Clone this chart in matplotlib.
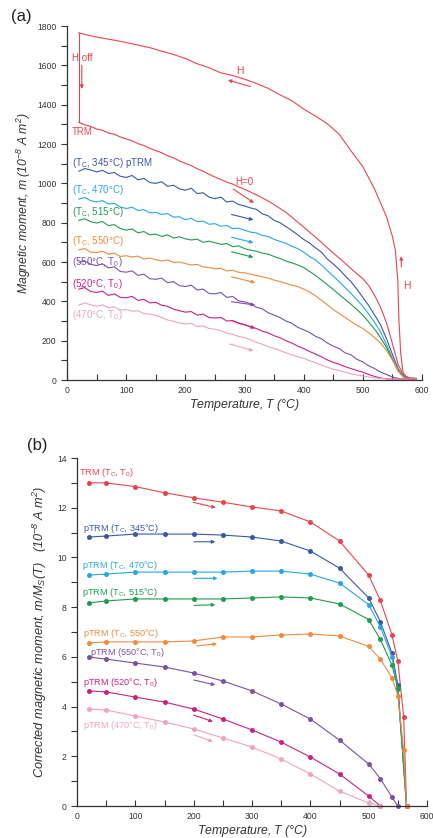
import matplotlib
matplotlib.use("Agg")
import matplotlib.pyplot as plt

plt.rcParams["font.family"] = ["Liberation Sans", "DejaVu Sans"]
plt.rcParams["mathtext.fontset"] = "custom"
plt.rcParams["mathtext.rm"] = "Liberation Sans"
plt.rcParams["mathtext.it"] = "Liberation Sans:italic"
plt.rcParams["mathtext.default"] = "regular"

RED = "#e4464c"
BLUE = "#3b58a5"
CYAN = "#27a7df"
GREEN = "#1f9c4c"
ORANGE = "#ef8a3f"
PURPLE = "#7b52a3"
MAGENTA = "#c42580"
PINK = "#eea3c2"

# ---- (a) continuous thermal scans, m in 1e-8 A m^2 ----
T_scan = [20, 30, 40, 50, 60, 70, 80, 90, 100, 110,
          120, 130, 140, 150, 160, 170, 180, 190, 200, 210,
          220, 230, 240, 250, 260, 270, 280, 290, 300, 310,
          320, 330, 340, 350, 360, 370, 380, 390, 400, 410,
          420, 430, 440, 450, 460, 470, 480, 490, 500, 510,
          520, 530, 540, 550, 560, 570, 580, 590]

# cooling in field H (from above Tc down to room temperature)
T_field = [20, 40, 60, 80, 100, 120, 140, 160, 180, 200, 220, 240, 260, 280,
           300, 320, 340, 360, 380, 400, 420, 440, 460, 480, 500, 520, 540,
           550, 555, 559, 561, 564, 568, 575, 590]
m_field = [1765, 1750, 1738, 1728, 1716, 1703, 1690, 1672, 1655, 1635, 1608,
           1588, 1562, 1548, 1530, 1508, 1483, 1450, 1420, 1378, 1342, 1303,
           1250, 1165, 1085, 970, 830, 730, 660, 510, 305, 137, 36, 12, 8]

m_trm = [1310, 1298, 1290, 1276, 1270, 1256, 1250, 1236, 1226, 1216,
         1202, 1192, 1178, 1166, 1156, 1140, 1130, 1114, 1102, 1090,
         1074, 1062, 1046, 1032, 1020, 1006, 996, 982, 970, 956,
         942, 926, 910, 892, 872, 852, 828, 802, 778, 752,
         726, 700, 672, 646, 620, 594, 566, 540, 515, 480,
         430, 370, 290, 185, 75, 22, 10, 8]
m_345 = [1062, 1075, 1068, 1058, 1066, 1050, 1055, 1036, 1030, 1040,
         1018, 1025, 1004, 1000, 1008, 985, 990, 972, 965, 975,
         948, 952, 930, 922, 930, 905, 910, 892, 885, 875,
         868, 845, 835, 812, 800, 780, 760, 738, 715, 696,
         672, 650, 615, 590, 562, 530, 500, 462, 420, 378,
         330, 280, 210, 130, 55, 15, 5, 6]
m_470 = [920, 928, 912, 905, 912, 895, 898, 880, 872, 878,
         862, 866, 850, 852, 842, 846, 828, 830, 815, 822,
         805, 808, 792, 795, 782, 786, 770, 772, 762, 752,
         748, 735, 730, 715, 705, 695, 680, 668, 650, 628,
         610, 585, 556, 528, 500, 470, 440, 408, 375, 335,
         292, 245, 180, 110, 45, 12, 5, 5]
m_515 = [812, 820, 805, 798, 806, 785, 790, 770, 762, 768,
         748, 755, 738, 742, 730, 738, 722, 728, 718, 712,
         716, 700, 706, 698, 690, 694, 678, 682, 668, 660,
         655, 645, 640, 628, 618, 605, 596, 585, 572, 552,
         532, 508, 485, 460, 435, 410, 385, 358, 330, 295,
         258, 215, 165, 105, 45, 12, 5, 5]
m_550 = [662, 668, 650, 648, 655, 640, 645, 628, 632, 625,
         630, 615, 620, 612, 605, 610, 598, 600, 592, 585,
         588, 575, 572, 565, 568, 555, 558, 548, 545, 538,
         532, 525, 518, 508, 500, 492, 482, 475, 462, 448,
         428, 405, 382, 358, 338, 318, 298, 278, 262, 240,
         215, 188, 150, 102, 45, 12, 5, 5]
m_550_t0 = [598, 605, 588, 582, 590, 570, 575, 552, 548, 555,
            532, 538, 515, 512, 518, 495, 500, 480, 475, 482,
            458, 462, 440, 438, 445, 420, 425, 402, 398, 388,
            370, 362, 342, 330, 318, 300, 288, 268, 255, 242,
            222, 210, 188, 172, 160, 138, 128, 105, 92, 72,
            58, 40, 28, 15, 8, 5, 5, 5]
m_520_t0 = [462, 470, 450, 445, 452, 430, 438, 420, 418, 425,
            405, 410, 392, 395, 380, 375, 360, 352, 345, 348,
            330, 335, 318, 315, 318, 300, 302, 288, 282, 270,
            262, 248, 240, 225, 215, 200, 188, 172, 160, 145,
            132, 118, 102, 90, 80, 68, 58, 48, 40, 28,
            18, 10, 6, 5, 5, 5, 5, 5]
m_470_t0 = [380, 392, 382, 375, 382, 368, 372, 355, 358, 350,
            352, 338, 335, 328, 318, 305, 298, 290, 285, 288,
            272, 275, 262, 258, 250, 238, 232, 222, 215, 205,
            192, 182, 170, 160, 150, 138, 128, 118, 110, 98,
            88, 76, 65, 55, 48, 40, 32, 26, 20, 15,
            10, 8, 6, 5, 5, 5, 5, 5]

scan_series = [
    (m_345, BLUE, r"(T$_C$, 345°C) pTRM", 1103),
    (m_470, CYAN, r"(T$_C$, 470°C)", 966),
    (m_515, GREEN, r"(T$_C$, 515°C)", 852),
    (m_550, ORANGE, r"(T$_C$, 550°C)", 708),
    (m_550_t0, PURPLE, r"(550°C, T$_0$)", 602),
    (m_520_t0, MAGENTA, r"(520°C, T$_0$)", 488),
    (m_470_t0, PINK, r"(470°C, T$_0$)", 330),
]
# heating arrows drawn beside each scan: (T start, m start, T end, m end)
scan_arrows = [
    (BLUE, 278, 842, 315, 814),
    (CYAN, 278, 726, 315, 698),
    (GREEN, 278, 652, 315, 624),
    (ORANGE, 278, 525, 318, 495),
    (PURPLE, 278, 398, 318, 381),
    (MAGENTA, 278, 302, 318, 263),
    (PINK, 275, 183, 315, 149),
]

# ---- (b) corrected moments at discrete steps, 1e-8 A m^2 ----
T_trm_b = [20, 50, 100, 150, 200, 250, 300, 350, 400, 450, 500, 520, 540, 550, 560, 565]
M_trm_b = [13.0, 13.0, 12.85, 12.6, 12.4, 12.22, 12.03, 11.87, 11.43, 10.66,
           9.29, 8.27, 6.88, 5.83, 3.59, 0.0]
T_tc_b = [20, 50, 100, 150, 200, 250, 300, 350, 400, 450, 500, 520, 540, 550, 565]
M_345_b = [10.82, 10.86, 10.94, 10.94, 10.94, 10.9, 10.82, 10.66, 10.26, 9.57,
           8.37, 7.42, 6.14, 4.87, 0.0]
M_470_b = [9.29, 9.33, 9.41, 9.41, 9.41, 9.41, 9.45, 9.45, 9.33, 8.97,
           8.1, 7.21, 6.0, 4.7, 0.0]
M_515_b = [8.17, 8.25, 8.33, 8.33, 8.33, 8.33, 8.37, 8.41, 8.37, 8.13,
           7.5, 6.7, 5.67, 4.73, 0.0]
M_550_b = [6.56, 6.6, 6.6, 6.6, 6.64, 6.8, 6.8, 6.88, 6.92, 6.84,
           6.42, 5.91, 5.15, 4.44, 2.25, 0.0]
T_550_t0_b = [20, 50, 100, 150, 200, 250, 300, 350, 400, 450, 500, 520, 540, 550]
M_550_t0_b = [5.99, 5.91, 5.75, 5.59, 5.35, 5.03, 4.63, 4.1, 3.5, 2.65,
              1.69, 1.1, 0.35, 0.0]
T_low_b = [20, 50, 100, 150, 200, 250, 300, 350, 400, 450, 500, 520]
M_520_t0_b = [4.63, 4.59, 4.38, 4.18, 3.9, 3.5, 3.06, 2.57, 1.97, 1.29, 0.4, 0.0]
M_470_t0_b = [3.9, 3.86, 3.62, 3.38, 3.1, 2.74, 2.37, 1.89, 1.29, 0.6, 0.12, 0.0]

step_series = [
    (T_trm_b, M_trm_b, RED, r"TRM (T$_C$, T$_0$)", 3, 13.4),
    (T_tc_b, M_345_b, BLUE, r"pTRM (T$_C$, 345°C)", 10, 11.18),
    (T_tc_b, M_470_b, CYAN, r"pTRM (T$_C$, 470°C)", 8, 9.67),
    (T_tc_b, M_515_b, GREEN, r"pTRM (T$_C$, 515°C)", 8, 8.6),
    (T_trm_b, M_550_b, ORANGE, r"pTRM (T$_C$, 550°C)", 10, 6.94),
    (T_550_t0_b, M_550_t0_b, PURPLE, r"pTRM (550°C, T$_0$)", 22, 6.18),
    (T_low_b, M_520_t0_b, MAGENTA, r"pTRM (520°C, T$_0$)", 10, 4.96),
    (T_low_b, M_470_t0_b, PINK, r"pTRM (470°C, T$_0$)", 10, 3.22),
]
step_arrows = [
    (RED, 199, 12.22, 238, 12.0),
    (BLUE, 201, 10.63, 237, 10.63),
    (CYAN, 201, 9.16, 241, 9.16),
    (GREEN, 201, 8.07, 237, 8.1),
    (ORANGE, 205, 6.44, 240, 6.52),
    (PURPLE, 200, 5.07, 237, 4.87),
    (MAGENTA, 200, 3.66, 233, 3.39),
    (PINK, 201, 2.86, 233, 2.59),
]

TICK_FS = 6.2
LABEL_FS = 8.8
TEXT_FS_A = 7.0
TEXT_FS_B = 6.6


def style_axes(ax):
    ax.spines["top"].set_visible(False)
    ax.spines["right"].set_visible(False)
    for s in ("left", "bottom"):
        ax.spines[s].set_linewidth(0.9)
        ax.spines[s].set_color("#333333")
    ax.tick_params(axis="x", direction="in", length=4, width=0.8,
                   labelsize=TICK_FS, pad=4, colors="#333333")
    ax.tick_params(axis="y", which="both", direction="out", length=4, width=0.8,
                   labelsize=TICK_FS, colors="#333333")


def arrow(ax, color, x0, y0, x1, y1):
    ax.annotate("", xy=(x1, y1), xytext=(x0, y0),
                arrowprops=dict(arrowstyle="-|>", color=color, lw=0.8,
                                mutation_scale=5, shrinkA=0, shrinkB=0))


fig = plt.figure(figsize=(4.33, 8.38), dpi=100)

# ---------------- panel (a) ----------------
ax = fig.add_axes([67 / 433, 1 - 380 / 838, 355 / 433, 354 / 838])
ax.plot(T_field, m_field, color=RED, lw=0.8)
ax.plot([T_field[0], T_scan[0]], [m_field[0], m_trm[0]], color=RED, lw=0.8)
ax.plot(T_scan, m_trm, color=RED, lw=0.8)
for vals, col, lab, ly in scan_series:
    ax.plot(T_scan, vals, color=col, lw=0.8)
    ax.text(8, ly, lab, color=col, fontsize=TEXT_FS_A, va="center", ha="left")
for col, x0, y0, x1, y1 in scan_arrows:
    arrow(ax, col, x0, y0, x1, y1)

ax.text(8, 1637, "H off", color=RED, fontsize=TEXT_FS_A, va="center")
arrow(ax, RED, 25, 1600, 25, 1480)
ax.text(8, 1261, "TRM", color=RED, fontsize=TEXT_FS_A, va="center")
ax.text(292, 1570, "H", color=RED, fontsize=TEXT_FS_A + 0.5, va="center", ha="center")
arrow(ax, RED, 310, 1492, 272, 1525)
ax.text(299, 1008, "H=0", color=RED, fontsize=TEXT_FS_A, va="center", ha="center")
arrow(ax, RED, 281, 971, 316, 900)
arrow(ax, RED, 565, 575, 565, 630)
ax.text(568, 480, "H", color=RED, fontsize=TEXT_FS_A + 0.5, va="center", ha="left")

ax.set_xlim(0, 600)
ax.set_ylim(0, 1800)
ax.set_xticks(range(0, 601, 50))
ax.set_xticklabels([str(v) if v % 100 == 0 else "" for v in range(0, 601, 50)])
ax.set_yticks(range(0, 1801, 200))
ax.set_yticks(range(100, 1800, 200), minor=True)
style_axes(ax)
ax.set_xlabel("Temperature, $T$ (°C)", fontsize=LABEL_FS, style="italic",
              color="#333333", labelpad=2)
ax.set_ylabel(r"Magnetic moment, $m$ (10$^{-8}$ A m$^2$)", fontsize=LABEL_FS,
              style="italic", color="#333333", labelpad=3)
fig.text(11 / 433, 1 - 17 / 838, "(a)", fontsize=12, va="center", color="#222222")

# ---------------- panel (b) ----------------
bx = fig.add_axes([77 / 433, 1 - 806 / 838, 350 / 433, 348 / 838])
for xs, ys, col, lab, lx, ly in step_series:
    bx.plot(xs, ys, color=col, lw=0.8, marker="o", markersize=3.6,
            markeredgewidth=0, clip_on=False)
    bx.text(lx, ly, lab, color=col, fontsize=TEXT_FS_B, va="center", ha="left")
for col, x0, y0, x1, y1 in step_arrows:
    arrow(bx, col, x0, y0, x1, y1)

bx.set_xlim(0, 600)
bx.set_ylim(0, 14)
bx.set_xticks(range(0, 601, 50))
bx.set_xticklabels([str(v) if v % 100 == 0 else "" for v in range(0, 601, 50)])
bx.set_yticks(range(0, 15, 2))
bx.set_yticks(range(1, 14, 2), minor=True)
style_axes(bx)
bx.set_xlabel("Temperature, $T$ (°C)", fontsize=LABEL_FS, style="italic",
              color="#333333", labelpad=2)
bx.set_ylabel(r"Corrected magnetic moment, $m/M_S(T)$   (10$^{-8}$ A m$^2$)",
              fontsize=9.2, style="italic", color="#333333", labelpad=6)
fig.text(27 / 433, 1 - 445 / 838, "(b)", fontsize=12, va="center", color="#222222")

fig.savefig("out.png", dpi=100)
